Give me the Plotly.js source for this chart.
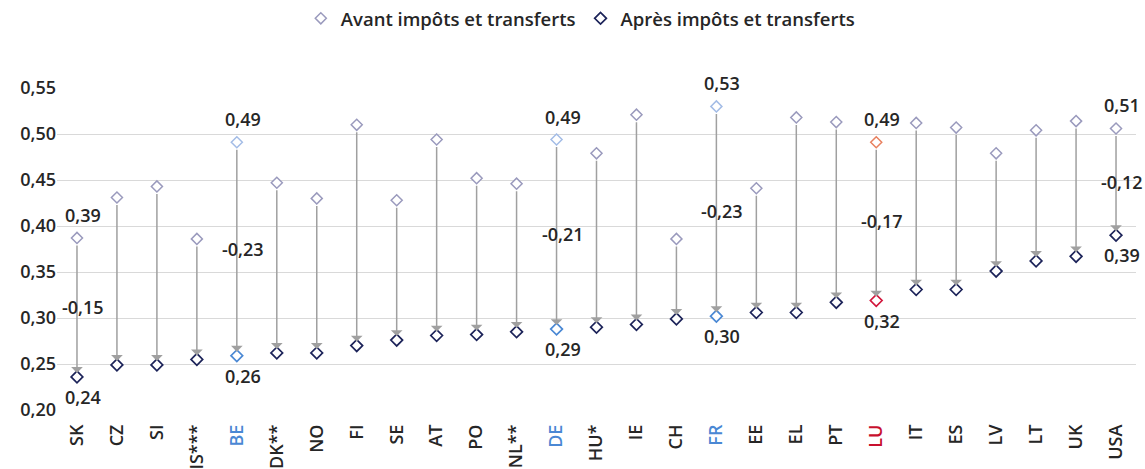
<!DOCTYPE html>
<html><head><meta charset="utf-8">
<script src="https://cdn.plot.ly/plotly-3.0.1.min.js"></script>
<style>html,body{margin:0;padding:0;background:#fff}#chart{width:1145px;height:469px}</style>
</head><body><div id="chart"></div>
<script>
const countries = ['SK','CZ','SI','IS***','BE','DK**','NO','FI','SE','AT','PO','NL**','DE','HU*','IE','CH','FR','EE','EL','PT','LU','IT','ES','LV','LT','UK','USA'];
const avant = [0.387,0.431,0.443,0.386,0.491,0.447,0.430,0.510,0.428,0.494,0.452,0.446,0.494,0.479,0.521,0.386,0.530,0.441,0.518,0.513,0.491,0.512,0.507,0.479,0.504,0.514,0.506];
const apres = [0.236,0.249,0.249,0.255,0.259,0.262,0.262,0.270,0.276,0.281,0.282,0.285,0.288,0.290,0.293,0.299,0.302,0.306,0.306,0.317,0.319,0.331,0.331,0.351,0.362,0.367,0.390];
const labelled = ['SK','BE','DE','FR','LU','USA'];
const highlight = {BE:'blue', DE:'blue', FR:'blue', LU:'red'};
const yTicks = [0.20,0.25,0.30,0.35,0.40,0.45,0.50,0.55];

const COL = {
  beforeNormal:'#9a9abd', afterNormal:'#1c2359',
  beforeBlue:'#a3bce6', afterBlue:'#4a88d4', labelBlue:'#4a88d4',
  beforeRed:'#e8805f', afterRed:'#d2163c', labelRed:'#c8102e',
  arrow:'#a0a0a0', text:'#262626', grid:'#d9d9d9'
};
const FONT = 'Open Sans, Noto Sans, sans-serif';
const fmt = v => (Math.round(v*100)/100).toFixed(2).replace('.', ',');
const fmtTick = v => v.toFixed(2).replace('.', ',');

const beforeColors = countries.map(c => highlight[c]==='blue' ? COL.beforeBlue : highlight[c]==='red' ? COL.beforeRed : COL.beforeNormal);
const afterColors = countries.map(c => highlight[c]==='blue' ? COL.afterBlue : highlight[c]==='red' ? COL.afterRed : COL.afterNormal);
const tickText = countries.map(c => highlight[c]==='blue' ? `<span style="color:${COL.labelBlue}">${c}</span>` : highlight[c]==='red' ? `<span style="color:${COL.labelRed}">${c}</span>` : c);

const traces = [
  {type:'scatter', mode:'markers', name:'Avant impôts et transferts', x:countries, y:avant,
   marker:{symbol:'diamond', size:8.5, color:'#ffffff', line:{color:beforeColors, width:1.5}}, hoverinfo:'x+y', cliponaxis:false},
  {type:'scatter', mode:'markers', name:'Après impôts et transferts', x:countries, y:apres,
   marker:{symbol:'diamond', size:9, color:'#ffffff', line:{color:afterColors, width:1.7}}, hoverinfo:'x+y', cliponaxis:false}
];

const annotations = [];
countries.forEach((c,i) => {
  annotations.push({x:c, y:apres[i], ax:c, ay:avant[i], xref:'x', yref:'y', axref:'x', ayref:'y',
    text:'', showarrow:true, arrowhead:1, arrowsize:1.3, arrowwidth:1.5, arrowcolor:COL.arrow,
    standoff:4, startstandoff:6});
});
const lf = {family:FONT, size:18, color:COL.text, weight:600};
countries.forEach((c,i) => {
  if (!labelled.includes(c)) return;
  annotations.push({x:c, y:avant[i], xref:'x', yref:'y', text:fmt(avant[i]), showarrow:false, yshift:23, xshift:6, font:lf});
  annotations.push({x:c, y:apres[i], xref:'x', yref:'y', text:fmt(apres[i]), showarrow:false, yshift:-20, xshift:6, font:lf});
  annotations.push({x:c, y:(avant[i]+apres[i])/2, xref:'x', yref:'y', text:fmt(apres[i]-avant[i]), showarrow:false, xshift:6, font:lf});
});

const layout = {
  width:1145, height:469,
  margin:{l:57, r:9, t:88, b:59, autoexpand:false},
  paper_bgcolor:'#ffffff', plot_bgcolor:'#ffffff',
  font:{family:FONT, size:18, color:COL.text, weight:600},
  showlegend:true,
  legend:{orientation:'h', x:0.485, xanchor:'center', y:1.215, yanchor:'middle',
    font:{family:FONT, size:18.5, color:COL.text, weight:600}, itemwidth:30, traceorder:'normal'},
  xaxis:{type:'category', range:[-0.5, countries.length-0.5], tickvals:countries, ticktext:tickText,
    tickangle:-90, showgrid:false, zeroline:false, showline:false, ticks:'', automargin:false,
    ticklabelstandoff:10, tickfont:{family:FONT, size:18, color:COL.text, weight:600}},
  yaxis:{range:[0.2,0.55], tickvals:yTicks, ticktext:yTicks.map(fmtTick), showgrid:true, gridcolor:COL.grid, gridwidth:1,
    zeroline:false, showline:false, ticks:'', automargin:false,
    tickfont:{family:FONT, size:18, color:COL.text, weight:600}},
  annotations:annotations
};
Plotly.newPlot('chart', traces, layout, {displayModeBar:false, staticPlot:true});
</script>
</body></html>
